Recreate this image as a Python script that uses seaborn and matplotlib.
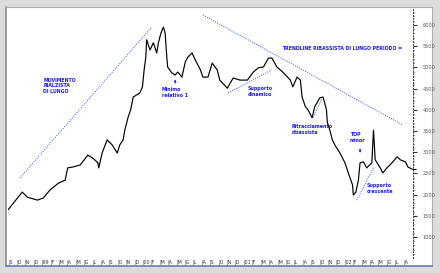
import matplotlib
matplotlib.use("Agg")
import matplotlib.pyplot as plt
import seaborn as sns
import pandas as pd

# ---- data (months since start, index level) ----
months = [0.0, 1.7, 2.3, 3.5, 4.2, 5.0, 6.0, 6.8, 7.1, 7.7, 8.6, 9.5, 10.1, 10.7, 10.8,
          11.2, 11.8, 12.4, 13.0, 13.3, 13.7, 13.9, 14.3, 14.6, 14.9, 15.7, 16.0, 16.2,
          16.4, 16.5, 16.9, 17.3, 17.7, 17.9, 18.2, 18.5, 18.7, 18.9, 19.0, 19.5, 19.9,
          20.2, 20.7, 21.1, 21.4, 21.9, 22.3, 22.9, 23.2, 23.8, 24.3, 24.9, 25.2, 26.1,
          26.8, 27.6, 28.5, 29.2, 29.8, 30.4, 31.0, 31.4, 32.0, 32.7, 33.6, 33.9, 34.4,
          34.8, 35.0, 35.4, 35.7, 36.2, 36.5, 37.1, 37.5, 37.9, 38.0, 38.3, 38.6, 38.9,
          39.5, 40.1, 40.5, 41.0, 41.1, 41.4, 41.7, 41.9, 42.3, 42.7, 43.3, 43.5, 43.7,
          44.3, 44.6, 45.1, 45.7, 46.3, 46.7, 47.3, 47.6, 48.1]
values = [1640, 2060, 1940, 1870, 1920, 2110, 2270, 2340, 2630, 2650, 2700, 2930, 2860, 2750, 2630,
          2980, 3290, 3170, 2980, 3170, 3290, 3520, 3830, 4000, 4300, 4400, 4540, 4940,
          5240, 5650, 5410, 5580, 5340, 5580, 5810, 5950, 5810, 5240, 5010, 4870, 4820,
          4890, 4770, 5130, 5240, 5340, 5170, 4940, 4770, 4770, 5100, 4940, 4700, 4510,
          4750, 4700, 4700, 4890, 4990, 5010, 5220, 5220, 5010, 4890, 4700, 4540, 4770,
          4700, 4300, 4070, 4000, 3810, 4070, 4280, 4300, 4000, 3710, 3520, 3290, 3170,
          2980, 2750, 2510, 2230, 1990, 2060, 2340, 2750, 2770, 2630, 2750, 3520, 2820,
          2630, 2510, 2630, 2750, 2890, 2820, 2770, 2650, 2600]

# trendlines (start month, start value, end month, end value)
trend_up = [1.4, 2390, 17.1, 5950]
trend_down = [23.2, 6235, 47.0, 3640]
trend_support = [26.2, 4395, 31.4, 4940]
trend_bounce = [36.3, 3830, 37.4, 4280]
trend_rebound = [41.5, 1870, 43.5, 2630]

y_ticks = [1000, 1500, 2000, 2500, 3000, 3500, 4000, 4500, 5000, 5500, 6000]
month_labels = ["S", "O", "N", "D", "99", "F", "M", "A", "M", "G", "L", "A",
                "S", "O", "N", "D", "00", "F", "M", "A", "M", "G", "L", "A",
                "S", "O", "N", "D", "01", "F", "M", "A", "M", "G", "L", "A",
                "S", "O", "N", "D", "02", "F", "M", "A", "M", "G", "L", "A"]

annotations = [
    ("MOVIMENTO\nRIALZISTA\nDI LUNGO", 4.2, 4760),
    ("Minimo\nrelativo 1", 18.3, 4540),
    ("TRENDLINE RIBASSISTA DI LUNGO PERIODO =", 32.6, 5500),
    ("Supporto\ndinamico", 28.5, 4560),
    ("Ritracciamento\nribassista", 33.8, 3660),
    ("TOP\nminor", 40.7, 3470),
    ("Supporto\ncrescente", 42.7, 2270),
]

df = pd.DataFrame({"month": months, "value": values})

sns.set_style("white")
plt.rcParams["font.family"] = ["DejaVu Sans"]

W, H = 440, 273
fig = plt.figure(figsize=(W / 100, H / 100), dpi=100, facecolor="#dcdcdc")

# white panel (background axes)
bg = fig.add_axes([6 / W, 1 - 266 / H, (432 - 6) / W, (266 - 7) / H])
bg.set_zorder(0)
bg.set_facecolor("white")
bg.set_xticks([])
bg.set_yticks([])
for s in ["top", "right"]:
    bg.spines[s].set_color("#b0b0b0")
    bg.spines[s].set_linewidth(0.8)
bg.spines["left"].set_color("#8a8a8a")
bg.spines["left"].set_linewidth(1.2)
bg.spines["bottom"].set_color("#6a78c8")
bg.spines["bottom"].set_linewidth(1.2)

ax = fig.add_axes([8 / W, 1 - 258 / H, (413 - 8) / W, (258 - 8) / H])
ax.set_zorder(1)
ax.set_facecolor("none")

sns.lineplot(data=df, x="month", y="value", ax=ax, color="black", lw=0.85)
ax.hlines(values[-1], months[-1], 48.6, color="black", lw=0.8, clip_on=False)

blue = "#3a4cff"
for tl in [trend_up, trend_down, trend_support, trend_bounce, trend_rebound]:
    ax.plot([tl[0], tl[2]], [tl[1], tl[3]], ls=(0, (1, 1.4)), color=blue, lw=0.7)

for txt, x, y in annotations:
    ax.text(x, y, txt, color="#1a1aff", fontsize=3.4, fontweight="bold",
            ha="left", va="top", linespacing=1.2)

# small arrows
ax.annotate("", xy=(19.9, 4780), xytext=(19.9, 4560),
            arrowprops=dict(arrowstyle="-|>", color="#1a1aff", lw=0.6, mutation_scale=3))
ax.annotate("", xy=(41.9, 2920), xytext=(41.9, 3150),
            arrowprops=dict(arrowstyle="-|>", color="#1a1aff", lw=0.6, mutation_scale=3))

ax.set_xlim(0, 48.2)
ax.set_ylim(505, 6400)

ax.yaxis.tick_right()
ax.set_yticks(y_ticks)
ax.set_yticklabels([str(v) for v in y_ticks])
ax.set_yticks(list(range(600, 6400, 100)), minor=True)
ax.tick_params(axis="y", which="major", length=3, width=0.8, colors="#333333",
               labelsize=3.6, pad=4, labelcolor="#555555")
ax.tick_params(axis="y", which="minor", length=1, width=0.8, colors="#333333", right=True)

ax.set_xticks([i + 0.0 for i in range(len(month_labels))])
ax.set_xticklabels(["|" + m for m in month_labels], ha="left")
ax.tick_params(axis="x", which="major", length=0, labelsize=3.4, pad=1,
               labelcolor="#333333")

for s in ["top", "left", "bottom"]:
    ax.spines[s].set_visible(False)
ax.spines["right"].set_linestyle((0, (1, 2)))
ax.spines["right"].set_color("#333333")
ax.spines["right"].set_linewidth(0.7)
ax.set_xlabel("")
ax.set_ylabel("")

fig.savefig("out.png", dpi=100, facecolor=fig.get_facecolor())
